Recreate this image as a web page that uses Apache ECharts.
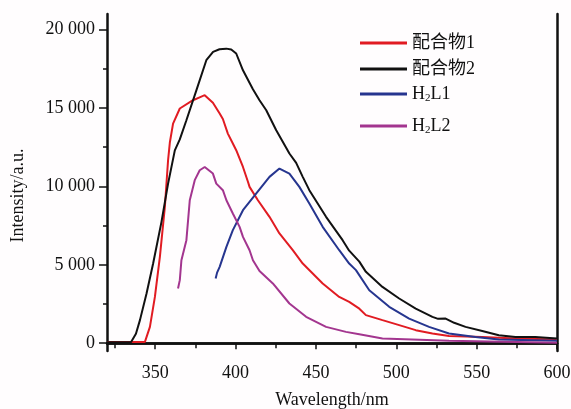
<!DOCTYPE html>
<html>
<head>
<meta charset="utf-8">
<script src="https://cdn.jsdelivr.net/npm/echarts@6/dist/echarts.min.js"></script>
<style>
  html, body { margin: 0; padding: 0; background: #fffdfe; }
  #chart { width: 571px; height: 409px; }
</style>
</head>
<body>
<div id="chart"></div>
<script>
// Fluorescence emission spectra: wavelength (nm) vs. intensity (a.u.)
const complex1Wl = [320, 343.6, 346.7, 349.8, 352.9, 356, 358, 359.1, 361.1, 365.3, 373.5, 378, 380.8, 385.9, 390.1, 392.1, 395.2, 398.3, 400.4, 404.6, 407.7, 408.7, 413.9, 421.1, 427.3, 435.6, 441.8, 454.2, 464.5, 470.7, 477, 481.1, 491.4, 501.8, 512.1, 522.5, 532.8, 553.5, 574.1, 600];
const complex1Int = [80, 80, 1040, 2950, 5500, 8690, 11670, 12800, 14010, 14970, 15500, 15700, 15820, 15340, 14650, 14300, 13370, 12740, 12310, 11240, 10300, 9970, 9120, 8060, 7000, 5930, 5080, 3810, 2950, 2630, 2200, 1790, 1470, 1150, 830, 620, 450, 400, 300, 240];

const complex2Wl = [320, 330, 335, 338, 340.5, 344.6, 348.7, 353.9, 358, 362.2, 365.3, 369.4, 375.6, 381.8, 386, 390, 394.2, 397.3, 400.4, 404.6, 410.8, 414.9, 419.1, 425.3, 433.5, 437.7, 441.8, 445.9, 456.3, 466.6, 470.7, 477, 481.1, 491.4, 501.8, 512.1, 522.5, 526, 530.7, 536, 543.1, 553.5, 563.8, 574.1, 586.5, 600];
const complex2Int = [60, 60, 80, 600, 1470, 3170, 5080, 7740, 10180, 12300, 13000, 14220, 16130, 18050, 18580, 18750, 18790, 18730, 18480, 17410, 16200, 15500, 14860, 13580, 12100, 11500, 10610, 9760, 8060, 6570, 5900, 5200, 4550, 3590, 2850, 2210, 1680, 1550, 1570, 1300, 1040, 780, 510, 400, 400, 300];

const h2l1Wl = [387.6, 388.5, 390.1, 394.3, 398.3, 404.6, 412.9, 421.1, 427.3, 433.5, 439.7, 445.9, 454.2, 464.5, 470.7, 474.9, 483.2, 495.6, 508, 520.4, 532.8, 549.3, 563.8, 600];
const h2l1Int = [4130, 4500, 4870, 6140, 7210, 8480, 9550, 10610, 11140, 10820, 9970, 8910, 7420, 5930, 5080, 4660, 3380, 2320, 1570, 1040, 620, 400, 240, 150];

const h2l2Wl = [364.2, 365.3, 366.3, 369.4, 371.5, 374.6, 377.7, 380.8, 385.9, 388, 392.1, 394.3, 398.3, 402.5, 404.6, 408.7, 410.8, 414.9, 423.2, 433.5, 443.9, 456.3, 468.7, 477, 491.4, 532.8, 600];
const h2l2Int = [3490, 4020, 5290, 6570, 9120, 10400, 11030, 11240, 10820, 10180, 9760, 9120, 8270, 7420, 6780, 5930, 5290, 4600, 3810, 2530, 1680, 1040, 720, 570, 300, 150, 20];

const seriesNames = ['配合物1', '配合物2', 'H2L1', 'H2L2'];
const seriesColors = ['#e11b22', '#111111', '#26358f', '#a3358f'];

const yMajorTicks = [0, 5000, 10000, 15000, 20000];
const yMinorTicks = [2500, 7500, 12500, 17500];
const xMajorTicks = [350, 400, 450, 500, 550, 600];
const xMinorTicks = [325, 375, 425, 475, 525, 575];

const zip = (xs, ys) => xs.map((x, i) => [x, ys[i]]);
const seriesData = [
  zip(complex1Wl, complex1Int),
  zip(complex2Wl, complex2Int),
  zip(h2l1Wl, h2l1Int),
  zip(h2l2Wl, h2l2Int)
];

const FONT = '"Liberation Serif", "Noto Sans CJK SC", serif';
const INK = '#111111';
const legendRows = [43, 69, 94, 126];

const chart = echarts.init(document.getElementById('chart'));

const hiddenAxis = {
  axisLabel: { show: false },
  splitLine: { show: false }
};

chart.setOption({
  animation: false,
  backgroundColor: '#fffdfe',
  grid: { left: 107, right: 14, top: 14, bottom: 58, containLabel: false, outerBoundsMode: 'none' },
  xAxis: [
    {
      type: 'value', min: 320, max: 600, position: 'bottom',
      name: 'Wavelength/nm', nameLocation: 'middle', nameGap: 40,
      nameTextStyle: { fontFamily: FONT, fontSize: 18, color: INK },
      axisLine: { lineStyle: { color: INK, width: 2.5 } },
      axisTick: { show: true, customValues: xMajorTicks, length: 6, lineStyle: { color: INK, width: 1.5 } },
      axisLabel: { customValues: xMajorTicks, margin: 13, fontFamily: FONT, fontSize: 18, color: INK },
      splitLine: { show: false }
    },
    Object.assign({
      type: 'value', min: 320, max: 600, position: 'bottom',
      axisLine: { show: false },
      axisTick: { show: true, customValues: xMinorTicks, length: 5, lineStyle: { color: INK, width: 1.5 } }
    }, hiddenAxis),
    Object.assign({
      type: 'value', min: 320, max: 600, position: 'top',
      axisLine: { show: true, lineStyle: { color: INK, width: 2.5 } },
      axisTick: { show: false }
    }, hiddenAxis)
  ],
  yAxis: [
    {
      type: 'value', min: -500, max: 21000, position: 'left',
      name: 'Intensity/a.u.', nameLocation: 'middle', nameGap: 80,
      nameTextStyle: { fontFamily: FONT, fontSize: 18, color: INK, padding: [0, 26, 0, 0] },
      axisLine: { show: true, lineStyle: { color: INK, width: 2.5 } },
      axisTick: { show: true, customValues: yMajorTicks, length: 8, lineStyle: { color: INK, width: 1.5 } },
      axisLabel: {
        customValues: yMajorTicks, margin: 12, fontFamily: FONT, fontSize: 18, color: INK,
        formatter: v => String(v).replace(/\B(?=(\d{3})+(?!\d))/g, ' ')
      },
      splitLine: { show: false }
    },
    Object.assign({
      type: 'value', min: -500, max: 21000, position: 'left',
      axisLine: { show: false },
      axisTick: { show: true, customValues: yMinorTicks, length: 4, lineStyle: { color: INK, width: 1.5 } }
    }, hiddenAxis),
    Object.assign({
      type: 'value', min: -500, max: 21000, position: 'right',
      axisLine: { show: true, lineStyle: { color: INK, width: 2.5 } },
      axisTick: { show: false }
    }, hiddenAxis)
  ],
  legend: seriesNames.map((name, i) => ({
    data: [name],
    left: 360,
    top: legendRows[i] - 10,
    padding: 0,
    icon: 'rect',
    itemWidth: 47,
    itemHeight: 3,
    selectedMode: false,
    formatter: n => n.startsWith('H2') ? '{n|H}{s|2}{n|' + n.slice(2) + '}' : n,
    textStyle: {
      fontFamily: FONT, fontSize: 18, color: INK, lineHeight: 20,
      rich: {
        n: { fontFamily: FONT, fontSize: 18, color: INK, lineHeight: 20 },
        s: { fontFamily: FONT, fontSize: 11, color: INK, lineHeight: 20, padding: [8, 0, 0, 0] }
      }
    }
  })),
  series: seriesNames.map((name, i) => ({
    name,
    type: 'line',
    xAxisIndex: 0,
    yAxisIndex: 0,
    data: seriesData[i],
    showSymbol: false,
    symbol: 'none',
    color: seriesColors[i],
    lineStyle: { color: seriesColors[i], width: 2 }
  }))
});
</script>
</body>
</html>
